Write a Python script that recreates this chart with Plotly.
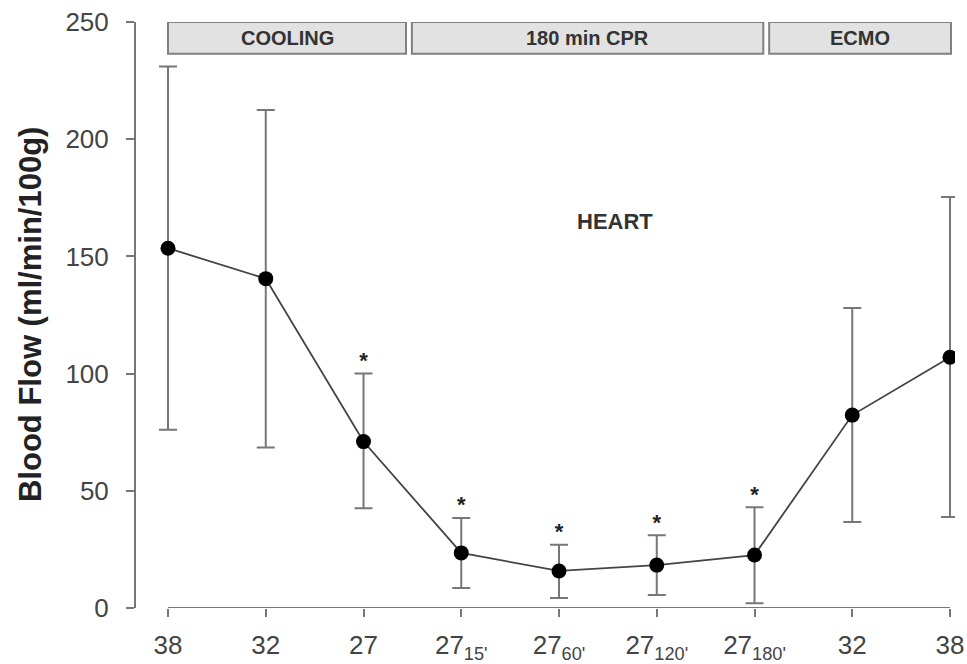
import plotly.graph_objects as go

tick_labels = ["38", "32", "27", "27<sub>15'</sub>", "27<sub>60'</sub>", "27<sub>120'</sub>",
               "27<sub>180'</sub>", "32", "38"]
mean_flow = [153.5, 140.5, 71, 23.5, 15.8, 18.3, 22.6, 82.3, 107]
upper_flow = [231, 212.5, 100, 38.4, 27, 31, 43, 128, 175.3]
lower_flow = [76, 68.5, 42.6, 8.5, 4.3, 5.5, 2, 36.7, 38.8]
significant = [False, False, True, True, True, True, True, False, False]
phases = ["COOLING", "180 min CPR", "ECMO"]
phase_start = [0.0, 2.495, 6.15]
phase_end = [2.435, 6.09, 8.01]

FONT = "Liberation Sans, Arial, sans-serif"

x = list(range(len(mean_flow)))
err_plus = [u - m for u, m in zip(upper_flow, mean_flow)]
err_minus = [m - l for m, l in zip(mean_flow, lower_flow)]

fig = go.Figure()
fig.add_trace(go.Scatter(
    x=x, y=mean_flow, mode="lines+markers",
    line=dict(color="#444444", width=1.8),
    marker=dict(color="black", size=15),
    error_y=dict(type="data", symmetric=False, array=err_plus, arrayminus=err_minus,
                 color="#777777", thickness=2, width=9),
    showlegend=False, hoverinfo="skip",
))
star_x = [xi for xi, s in zip(x, significant) if s]
star_y = [u for u, s in zip(upper_flow, significant) if s]
fig.add_trace(go.Scatter(
    x=star_x, y=star_y, mode="text", text=["<b>*</b>"] * len(star_x),
    textposition="top center",
    textfont=dict(family=FONT, size=22, color="#222222"),
    showlegend=False, hoverinfo="skip",
))

shapes = []
annotations = []
for name, s, e in zip(phases, phase_start, phase_end):
    shapes.append(dict(type="rect", xref="x", yref="y", x0=s, x1=e, y0=236.5, y1=250,
                       fillcolor="#e2e2e2", line=dict(color="#808080", width=2), layer="above"))
    annotations.append(dict(x=(s + e) / 2, y=243.2, xref="x", yref="y", text="<b>%s</b>" % name,
                            showarrow=False,
                            font=dict(family=FONT, size=20, color="#333333")))
# detached x axis baseline
shapes.append(dict(type="line", xref="x", yref="y", x0=0, x1=8, y0=0, y1=0,
                   line=dict(color="#777777", width=2), layer="below"))
annotations.append(dict(x=4.57, y=164.7, xref="x", yref="y", text="<b>HEART</b>", showarrow=False,
                        font=dict(family=FONT, size=22, color="#333333")))
annotations.append(dict(x=-0.1294, y=0.5, xref="paper", yref="paper",
                        text="<b>Blood Flow (ml/min/100g)</b>", textangle=-90, showarrow=False,
                        xanchor="center", yanchor="middle",
                        font=dict(family=FONT, size=31, color="#222222")))

fig.update_layout(
    width=967, height=664,
    margin=dict(l=136, r=12, t=22, b=56, autoexpand=False),
    plot_bgcolor="white", paper_bgcolor="white",
    shapes=shapes, annotations=annotations,
    font=dict(family=FONT, color="#444444"),
    xaxis=dict(range=[-0.3274, 8.051], tickmode="array", tickvals=x, ticktext=tick_labels,
               showline=False, showgrid=False, zeroline=False, ticks="outside", ticklen=8,
               tickwidth=2, tickcolor="#777777", ticklabelstandoff=6, automargin=False,
               tickfont=dict(size=26, color="#444444")),
    yaxis=dict(range=[0, 250], tickvals=[0, 50, 100, 150, 200, 250], showline=True,
               linecolor="#777777", linewidth=2, showgrid=False, zeroline=False,
               ticks="outside", ticklen=8, tickwidth=2, tickcolor="#777777",
               ticklabelstandoff=12, automargin=False,
               tickfont=dict(size=26, color="#444444")),
)

fig.write_html("out.html", config={"displayModeBar": False},
               post_script="document.body.style.margin='0';")
